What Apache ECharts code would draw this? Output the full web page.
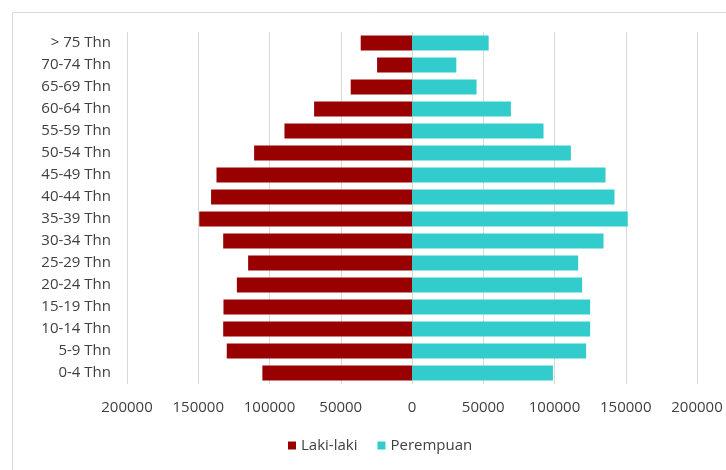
<!DOCTYPE html>
<html>
<head>
<meta charset="utf-8">
<script src="https://cdn.jsdelivr.net/npm/echarts@6/dist/echarts.min.js"></script>
<style>
  html, body { margin: 0; padding: 0; background: #fff; }
  #chart { width: 726px; height: 470px; }
</style>
</head>
<body>
<div id="chart"></div>
<script>
// kelompok umur, dari atas ke bawah
const categories = [
  '> 75 Thn', '70-74 Thn', '65-69 Thn', '60-64 Thn', '55-59 Thn', '50-54 Thn',
  '45-49 Thn', '40-44 Thn', '35-39 Thn', '30-34 Thn', '25-29 Thn', '20-24 Thn',
  '15-19 Thn', '10-14 Thn', '5-9 Thn', '0-4 Thn'
]
const lakiLaki = [
  36000, 24500, 43000, 68700, 89500, 110800,
  137200, 141000, 149300, 132500, 115000, 122900,
  132300, 132500, 130000, 105000
]
const perempuan = [
  53800, 31100, 45300, 69400, 92300, 111500,
  135800, 142100, 151400, 134400, 116600, 119400,
  125000, 125000, 122200, 98900
]

const textColor = '#404040'
const font = '"Open Sans", sans-serif'

const chart = echarts.init(document.getElementById('chart'))

chart.setOption({
  animation: false,
  backgroundColor: '#fff',
  graphic: [{
    type: 'rect',
    left: 10,
    top: 10,
    shape: { width: 760, height: 500 },
    style: { fill: 'none', stroke: '#d9d9d9', lineWidth: 1 },
    silent: true
  }],
  grid: { left: 127, right: 29, top: 32, bottom: 86 },
  legend: {
    bottom: 12,
    left: 283,
    icon: 'rect',
    itemWidth: 8,
    itemHeight: 8,
    itemGap: 20,
    textStyle: { color: textColor, fontSize: 15, fontFamily: font },
    data: ['Laki-laki', 'Perempuan']
  },
  xAxis: {
    type: 'value',
    min: -200000,
    max: 200000,
    interval: 50000,
    axisLine: { show: false },
    axisTick: { show: false },
    axisLabel: {
      color: textColor,
      fontSize: 15,
      fontFamily: font,
      margin: 16,
      formatter: (v) => String(Math.abs(v))
    },
    splitLine: { lineStyle: { color: '#d9d9d9' } }
  },
  yAxis: {
    type: 'category',
    inverse: true,
    data: categories,
    axisLine: { show: false },
    axisTick: { show: false },
    axisLabel: { color: textColor, fontSize: 15, fontFamily: font, margin: 16 }
  },
  series: [
    {
      name: 'Laki-laki',
      type: 'bar',
      stack: 'pop',
      barCategoryGap: '32%',
      itemStyle: { color: '#990000' },
      data: lakiLaki.map((v) => -v)
    },
    {
      name: 'Perempuan',
      type: 'bar',
      stack: 'pop',
      barCategoryGap: '32%',
      itemStyle: { color: '#33cccc' },
      data: perempuan
    }
  ]
})
</script>
</body>
</html>
